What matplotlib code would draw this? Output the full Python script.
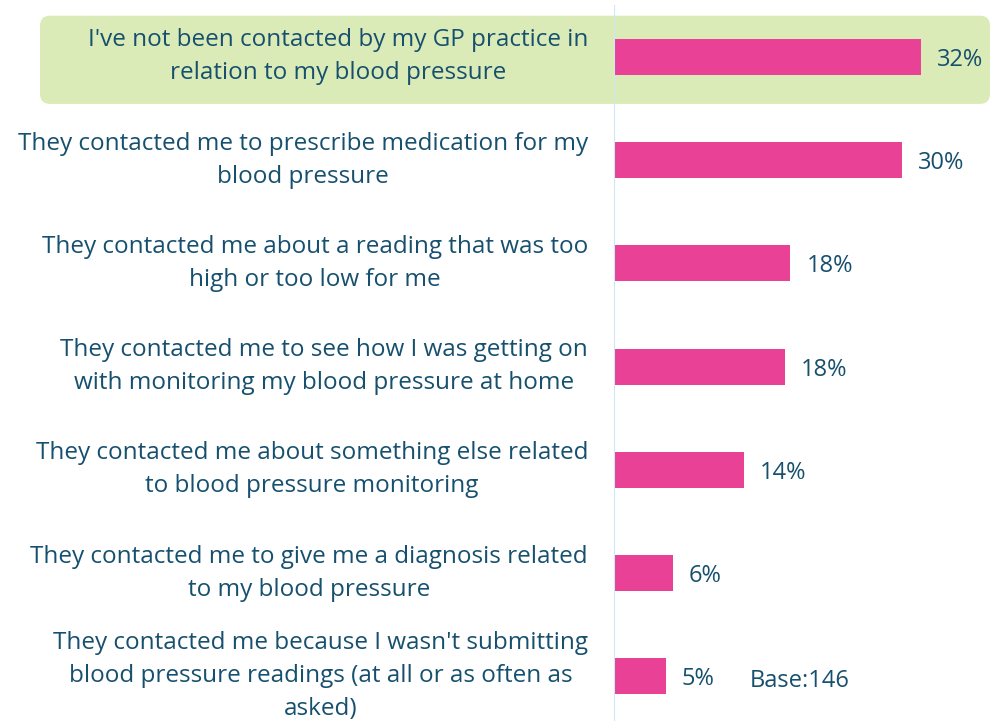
import matplotlib.pyplot as plt
from matplotlib.patches import FancyBboxPatch
from matplotlib.transforms import IdentityTransform

# data
labels = [
    "I've not been contacted by my GP practice in\nrelation to my blood pressure",
    "They contacted me to prescribe medication for my\nblood pressure",
    "They contacted me about a reading that was too\nhigh or too low for me",
    "They contacted me to see how I was getting on\nwith monitoring my blood pressure at home",
    "They contacted me about something else related\nto blood pressure monitoring",
    "They contacted me to give me a diagnosis related\nto my blood pressure",
    "They contacted me because I wasn't submitting\nblood pressure readings (at all or as often as\nasked)",
]
values = [32.0, 30.0, 18.4, 17.8, 13.6, 6.1, 5.4]
value_labels = ["32%", "30%", "18%", "18%", "14%", "6%", "5%"]
base_text = "Base:146"

text_col = "#16506e"
bar_col = "#e84195"

plt.rcParams['font.family'] = ['Open Sans', 'DejaVu Sans']

fig = plt.figure(figsize=(9.9, 7.21), dpi=100)
ax = fig.add_axes([614 / 990, 0, 376 / 990, 1])

ypos = list(range(len(values)))
ax.barh(ypos, values, height=0.35, color=bar_col)
ax.set_xlim(0, 39.2)
ax.set_ylim(6.434, -0.552)
ax.axis('off')

# vertical axis line
ax.axvline(0, ymin=0, ymax=1 - 6 / 721, color='#c8e9f8', lw=1.5, zorder=5)

# highlight box behind first row
fig.canvas.draw()
_, y_top = ax.transData.transform((0, -0.40))
_, y_bot = ax.transData.transform((0, 0.455))
box = FancyBboxPatch((40 + 10, y_bot + 10), 990 - 40 - 20, y_top - y_bot - 20,
                     boxstyle="round,pad=10,rounding_size=10",
                     transform=IdentityTransform(), facecolor='#dbebb7',
                     edgecolor='none', zorder=0)
fig.patches.append(box)
ax.set_zorder(1)
ax.patch.set_alpha(0)

for y, lab in zip(ypos, labels):
    ax.text(-2.7, y, lab, ha='right', va='center', multialignment='center',
            fontsize=17.5, color=text_col, linespacing=1.5, clip_on=False)

for y, v, t in zip(ypos, values, value_labels):
    ax.text(v + 1.65, y + 0.03, t, ha='left', va='center', fontsize=17, color=text_col)

ax.text(14.2, ypos[-1] + 0.05, base_text, ha='left', va='center',
        fontsize=17, color=text_col)

fig.savefig('out.png', dpi=100)
